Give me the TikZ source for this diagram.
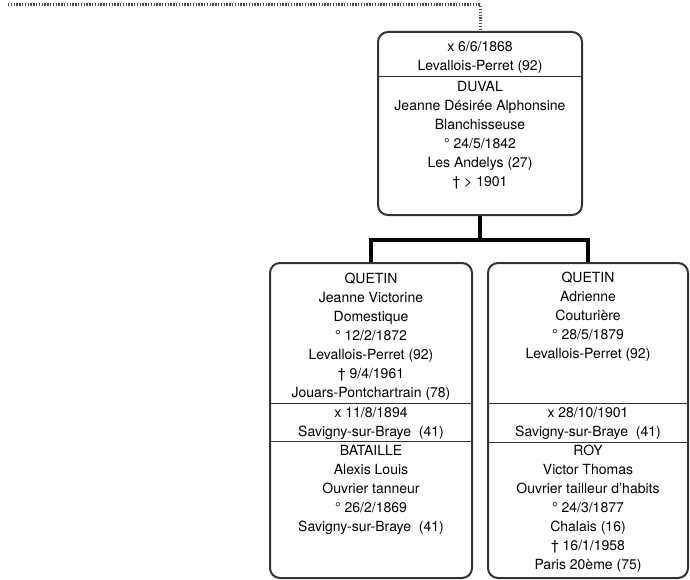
\documentclass[tikz,border=0pt]{standalone}
\usepackage{fontspec}
\setmainfont{TeX Gyre Heros}

\begin{document}
\begin{tikzpicture}
  [x=1pt,y=-1pt,
   fiche/.style={draw=black!80,line width=2pt,rounded corners=10pt,inner sep=0pt},
   texte/.style={align=center,inner sep=0pt,font=\fontsize{14}{19}\selectfont},
   trait/.style={draw=black!80,line width=1pt},
   lien/.style={line width=4pt},
   hachure/.style={line width=3pt,black!70,dash pattern=on 1.3pt off 1.5pt}]
  \useasboundingbox (0,0) rectangle (690,580);

  % les fiches
  \node[fiche,minimum width=204pt,minimum height=183pt] (duval) at (480,123.5) {};
  \node[fiche,minimum width=202pt,minimum height=315pt] (jeanne) at (371,420.5) {};
  \node[fiche,minimum width=200pt,minimum height=315pt] (adrienne) at (588,420.5) {};

  \foreach \n/\y in {duval/77, jeanne/403, jeanne/441, adrienne/403, adrienne/442}
    \draw[trait] (\n.west |- 0,\y) -- (\n.east |- 0,\y);

  % textes
  \node[texte] (mar0) at (480,57.5) {x 6/6/1868\\Levallois-Perret (92)};
  \node[texte] (mere) at (480,135) {DUVAL\\Jeanne Désirée Alphonsine\\Blanchisseuse\\° 24/5/1842\\Les Andelys (27)\\† > 1901};

  \node[texte] (fille1) at (371,337) {QUETIN\\Jeanne Victorine\\Domestique\\° 12/2/1872\\Levallois-Perret (92)\\† 9/4/1961\\Jouars-Pontchartrain (78)};
  \node[texte] (mar1) at (371,423) {x 11/8/1894\\Savigny-sur-Braye~ (41)};
  \node[texte] (epoux1) at (371,490) {BATAILLE\\Alexis Louis\\Ouvrier tanneur\\° 26/2/1869\\Savigny-sur-Braye~ (41)};

  \node[texte] (fille2) at (588,317) {QUETIN\\Adrienne\\Couturière\\° 28/5/1879\\Levallois-Perret (92)};
  \node[texte] (mar2) at (588,423) {x 28/10/1901\\Savigny-sur-Braye~ (41)};
  \node[texte] (epoux2) at (588,509) {ROY\\Victor Thomas\\Ouvrier tailleur d'habits\\° 24/3/1877\\Chalais (16)\\† 16/1/1958\\Paris 20ème (75)};

  % liens
  \coordinate (depart) at (8,5);
  \coordinate (fourche) at (480,240);
  \draw[hachure] (depart) -| (duval.north);
  \draw[lien] (duval.south) -- (fourche);
  \draw[lien] (jeanne.north) |- (fourche) -| (adrienne.north);
\end{tikzpicture}
\end{document}
